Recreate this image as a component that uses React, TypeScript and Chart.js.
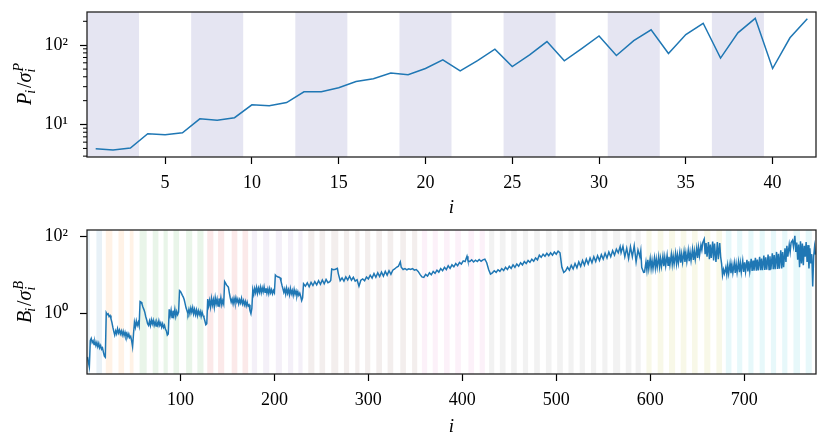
import { useEffect, useRef } from "react";
import { Chart, registerables } from "chart.js";

Chart.register(...registerables);

// ---------- top panel: P_i / sigma_i^P ----------
const pIndex = [
  1, 2, 3, 4, 5, 6, 7, 8, 9, 10, 11, 12, 13, 14, 15, 16, 17, 18, 19, 20, 21,
  22, 23, 24, 25, 26, 27, 28, 29, 30, 31, 32, 33, 34, 35, 36, 37, 38, 39, 40, 41, 42,
];
const pValues = [
  4.95, 4.77, 5.05, 7.65, 7.43, 7.87, 11.8, 11.3, 12.2, 17.7, 17.2, 18.9, 25.9, 25.9,
  29.1, 34.9, 37.7, 44.5, 42.4, 50.8, 65.3, 47.5, 64.1, 89, 53.8, 75.5, 111, 63.5,
  90.8, 131, 74, 114, 156, 78.6, 136, 189, 68.7, 143, 218, 50.8, 124, 216,
];
const pBandStart = [0.5, 6.5, 12.5, 18.5, 24.5, 30.5, 36.5];
const pBandEnd = [3.5, 9.5, 15.5, 21.5, 27.5, 33.5, 39.5];
const pTicksX = [5, 10, 15, 20, 25, 30, 35, 40];
const pTicksY = [10, 100];
const pMinorY = [4, 5, 6, 7, 8, 9, 20, 30, 40, 50, 60, 70, 80, 90, 200];

// ---------- bottom panel: B_i / sigma_i^B ----------
const bIndex = [
  // 1..20
  1, 2, 3, 4, 5, 6, 7, 8, 9, 10, 11, 12, 13, 14, 15, 16, 17, 18, 19, 20,
  // 21..56
  21, 22, 23, 24, 25, 26, 27, 28, 29, 30, 31, 32, 33, 34, 35, 36, 37, 38, 39, 40,
  41, 42, 43, 44, 45, 46, 47, 48, 49, 50, 51, 52, 53, 54, 55, 56,
  // 57..127
  57, 58, 59, 60, 61, 62, 63, 64, 65, 66, 67, 68, 69, 70, 71, 72, 73, 74, 75, 76,
  77, 78, 79, 80, 81, 82, 83, 84, 85, 86, 87, 88, 89, 90, 91, 92, 93, 94, 95, 96,
  97, 98, 99, 100, 101, 102, 103, 104, 105, 106, 107, 108, 109, 110, 111, 112, 113,
  114, 115, 116, 117, 118, 119, 120, 121, 122, 123, 124, 125, 126, 127,
  // 128..176
  128, 129, 130, 131, 132, 133, 134, 135, 136, 137, 138, 139, 140, 141, 142, 143,
  144, 145, 146, 147, 148, 149, 150, 151, 152, 153, 154, 155, 156, 157, 158, 159,
  160, 161, 162, 163, 164, 165, 166, 167, 168, 169, 170, 171, 172, 173, 174, 175, 176,
  // 177..230
  177, 178, 179, 180, 181, 182, 183, 184, 185, 186, 187, 188, 189, 190, 191, 192,
  193, 194, 195, 196, 197, 198, 199, 200, 201, 202, 203, 204, 205, 206, 207, 208,
  209, 210, 211, 212, 213, 214, 215, 216, 217, 218, 219, 220, 221, 222, 223, 224,
  225, 226, 227, 228, 229, 230,
  // 231..359
  231, 233, 235, 237, 239, 241, 243, 245, 247, 249, 251, 253, 255, 257, 259, 260,
  261, 263, 265, 267, 268, 270, 272, 274, 276, 278, 280, 282, 284, 286, 288, 290,
  292, 294, 296, 298, 300, 302, 304, 306, 308, 310, 312, 314, 316, 318, 320, 322,
  324, 326, 328, 330, 332, 334, 335, 337, 339, 341, 343, 345, 347, 349, 351, 353,
  355, 357, 359,
  // 361..430
  361, 363, 365, 367, 369, 371, 373, 375, 377, 379, 381, 383, 385, 387, 389, 391,
  393, 395, 397, 399, 401, 403, 405, 406, 408, 410, 412, 414, 416, 418, 420, 422,
  424, 426, 428, 430,
  // 432..593
  432, 434, 436, 438, 440, 442, 444, 446, 448, 450, 452, 454, 456, 458, 460, 462,
  464, 466, 468, 470, 472, 474, 476, 478, 480, 482, 484, 486, 488, 490, 492, 494,
  496, 498, 500, 502, 504, 506, 508, 510, 512, 514, 516, 518, 520, 522, 524, 526,
  528, 530, 532, 534, 536, 538, 540, 542, 544, 546, 548, 550, 552, 554, 556, 558,
  560, 562, 564, 566, 568, 569, 571, 573, 575, 577, 579, 581, 583, 585, 587, 589,
  590, 591, 593,
  // 594..678
  594, 595.5, 596.5, 597.5, 598.5, 600, 601, 602, 603, 604.5, 605.5, 606.5, 607.5,
  609, 610, 611, 612, 613.5, 614.5, 615.5, 616.5, 618, 619, 620, 621, 622.5, 623.5,
  624.5, 625.5, 627, 628, 629, 630, 631.5, 632.5, 633.5, 634.5, 636, 637, 638, 639,
  640.5, 641.5, 642.5, 643.5, 645, 646, 647, 648, 649.5, 650.5, 651.5, 652.5, 654,
  655, 656, 657.5, 658.5, 659.5, 660.5, 662, 663, 664, 665, 666.5, 667.5, 668.5,
  670, 671.5, 672.5, 674, 675, 676, 677, 678,
  // 679..776
  679, 680.5, 681.5, 682.5, 683.5, 685, 686, 687, 688, 689.5, 690.5, 691.5, 692.5,
  694, 695, 696, 697, 698.5, 699.5, 700.5, 701.5, 703, 704, 705, 706, 707.5, 708.5,
  709.5, 710.5, 712, 713, 714, 715, 716.5, 717.5, 718.5, 719.5, 721, 722, 723, 724,
  725.5, 726.5, 727.5, 728.5, 730, 731, 732, 733, 734.5, 735.5, 736.5, 737.5, 739,
  740, 741, 742, 743.5, 744.5, 745.5, 746.5, 748, 749, 750, 751.5, 752.5, 754, 755,
  756, 757, 758, 759, 760, 761, 762, 763, 764, 765, 766, 767, 768, 769, 770, 771,
  772, 773, 774, 775, 776,
];
const bValues = [
  // 1..20
  0.076, 0.055, 0.042, 0.2, 0.23, 0.18, 0.2, 0.16, 0.19, 0.15, 0.18, 0.14, 0.17,
  0.13, 0.15, 0.12, 0.13, 0.1, 0.08, 0.075,
  // 21..56
  1.06, 0.95, 1.0, 0.85, 0.9, 0.75, 0.6, 0.45, 0.35, 0.28, 0.36, 0.3, 0.41, 0.32,
  0.38, 0.3, 0.36, 0.28, 0.35, 0.27, 0.33, 0.26, 0.31, 0.25, 0.3, 0.24, 0.26, 0.2,
  0.14, 0.3, 0.6, 0.45, 0.65, 0.5, 0.6, 0.48,
  // 57..127
  2.07, 2.0, 1.8, 1.5, 1.3, 1.1, 0.85, 0.7, 0.55, 0.5, 0.65, 0.5, 0.7, 0.55, 0.68,
  0.5, 0.62, 0.48, 0.6, 0.5, 0.66, 0.5, 0.58, 0.45, 0.55, 0.44, 0.5, 0.4, 0.36, 0.28,
  0.3, 1.3, 0.9, 1.25, 0.8, 1.2, 0.9, 1.3, 0.85, 1.15, 0.95, 1.1, 4.0, 3.8, 3.4, 3.0,
  2.7, 2.3, 1.8, 1.4, 1.2, 1.0, 1.3, 1.0, 1.4, 1.1, 1.45, 1.0, 1.3, 0.95, 1.25, 0.9,
  1.2, 0.95, 1.15, 0.85, 1.1, 0.9, 0.8, 0.65, 0.52,
  // 128..176
  0.55, 2.4, 1.6, 2.2, 1.5, 2.5, 1.7, 2.3, 1.5, 2.6, 1.8, 2.4, 1.6, 2.5, 1.8, 2.6,
  1.7, 2.2, 1.8, 6.8, 6.2, 5.6, 5.2, 4.9, 3.5, 2.6, 2.0, 2.4, 1.8, 2.5, 1.9, 2.6,
  2.0, 2.4, 1.8, 2.3, 1.9, 2.5, 1.8, 2.2, 1.7, 2.1, 1.6, 2.0, 1.6, 1.7, 1.2, 1.0, 1.4,
  // 177..230
  4.2, 3.2, 4.5, 3.5, 4.8, 3.4, 4.6, 3.6, 4.9, 3.5, 4.7, 3.7, 5.0, 3.6, 4.6, 3.4,
  4.4, 3.3, 4.5, 3.5, 4.2, 3.3, 4.0, 3.5, 10.1, 9.5, 9.2, 9.0, 8.8, 8.6, 7.0, 5.5,
  4.5, 3.6, 4.4, 3.2, 4.6, 3.4, 4.2, 3.1, 4.5, 3.3, 4.0, 3.0, 4.3, 3.2, 3.9, 2.9,
  3.7, 3.0, 3.4, 2.8, 2.2, 2.6,
  // 231..359
  6.0, 5.2, 6.3, 5.0, 6.5, 5.4, 6.8, 5.6, 7.2, 5.8, 7.5, 6.0, 7.8, 6.4, 6.8, 7.4,
  14.4, 13.8, 14.2, 15.0, 11.0, 7.2, 8.5, 7.0, 9.0, 7.5, 9.4, 7.4, 8.8, 7.0, 7.6, 5.2,
  7.4, 8.0, 7.2, 9.0, 8.0, 10.0, 8.4, 11.0, 8.8, 11.5, 9.2, 12.0, 9.5, 12.5, 10.0, 13.0,
  10.5, 13.5, 14.5, 16.0, 17.0, 22.0, 16.0, 14.0, 14.8, 13.8, 14.6, 14.0, 14.8, 13.5,
  14.0, 12.5, 10.5, 9.0, 8.8,
  // 361..430
  10.5, 9.5, 11.5, 10.2, 12.5, 11.2, 13.5, 12.0, 14.8, 13.0, 16.0, 14.0, 17.5, 15.0,
  18.5, 16.5, 20.0, 17.5, 21.5, 19.5, 23.5, 22.5, 31.0, 24.0, 22.5, 25.0, 22.0, 24.5,
  22.5, 25.5, 23.0, 25.0, 26.0, 21.0, 14.0, 10.7,
  // 432..593
  11.5, 13.0, 11.8, 13.8, 12.5, 14.8, 13.2, 16.0, 14.0, 17.0, 15.0, 18.5, 16.0, 19.5,
  17.0, 21.0, 18.5, 22.5, 20.0, 24.0, 21.5, 26.0, 23.0, 28.0, 25.0, 33.0, 29.0, 35.0,
  31.0, 37.0, 32.0, 38.0, 33.0, 40.0, 35.0, 42.0, 38.0, 16.0, 11.8, 13.0, 16.0, 13.5,
  18.0, 14.5, 20.0, 15.5, 22.0, 17.0, 24.0, 18.0, 26.0, 19.5, 28.0, 21.0, 30.0, 22.5,
  32.0, 24.0, 34.0, 26.0, 37.0, 28.0, 40.0, 30.0, 43.0, 33.0, 47.0, 38.0, 55.0, 38.0,
  56.0, 30.0, 50.0, 27.0, 54.0, 30.0, 58.0, 22.0, 45.0, 30.0, 43.0, 15.8, 11.8,
  // 594..678
  12.0, 22, 13.5, 25, 14.5, 27, 15, 24, 14.8, 28, 15.5, 26, 16, 30, 16.5, 27, 16.8,
  31, 17, 29, 17.5, 33, 18, 30, 18.5, 35, 19, 31, 19.5, 37, 20, 33, 20.5, 39, 21, 35,
  21.5, 41, 22, 37, 22.5, 44, 23, 39, 24, 47, 25, 42, 26, 50, 28, 52, 32, 60, 45, 70,
  86, 35, 68, 30, 72, 26, 62, 28, 74, 24, 66, 22, 72, 26, 68, 30, 20, 10, 14,
  // 679..776
  11, 16, 10.5, 18, 11, 20, 11.2, 18.5, 11.5, 21, 11.5, 19.5, 11.8, 22, 12, 20.5, 12,
  23.5, 12.2, 21.5, 12.3, 25, 12.5, 23, 12.6, 26.5, 12.8, 24, 13, 28, 13, 25.5, 13.2,
  30, 13.4, 27, 13.5, 32, 13.6, 29, 13.8, 34, 14, 31, 14, 37, 14.2, 33, 14.3, 40, 14.5,
  36, 14.8, 44, 15, 40, 16, 50, 22, 58, 30, 62, 40, 70, 80, 55, 104, 40, 70, 25, 62,
  16, 75, 20, 66, 18, 58, 30, 72, 22, 60, 15, 50, 20, 35, 5.1, 30, 55, 34,
];
const bBandStart = [
  0.5, 10.5,
  20.5, 34, 46,
  56.5, 70.5, 82, 92.5, 106, 118,
  128.5, 140, 154.5, 166,
  176, 188, 201.5, 214.5, 225.5,
  236, 248, 260.5, 274, 286, 296.5, 308.5, 320.5, 334, 346.5,
  357, 368.5, 380.5, 392.5, 406.5, 418.5,
  428.5, 440, 452, 464.5, 476.5, 489, 501, 513, 525, 537, 549, 560.5, 574, 584.5,
  596, 608, 620, 632.5, 644.5, 657.5, 670.5,
  680.5, 692.5, 704.5, 716.5, 728.5, 740.5, 752.5, 765.5,
];
const bBandEnd = [
  3.5, 16.5,
  27.5, 40, 50,
  64, 76.5, 86.5, 98.5, 112.5, 124.5,
  135, 146.5, 160.5, 172,
  181.5, 194.5, 208, 220, 230,
  242.5, 254, 268, 279.5, 290.5, 302, 314.5, 326.5, 340, 352,
  362.5, 374, 386.5, 398.5, 412.5, 424,
  434, 446, 458, 470, 482.5, 495, 507, 518.5, 530.5, 542.5, 554.5, 568, 580, 590,
  601.5, 614, 626.5, 638.5, 650.5, 664, 676.5,
  686.5, 698, 710, 722, 734, 746, 759.5, 772,
];
const bBandGroup = [
  0, 0,
  1, 1, 1,
  2, 2, 2, 2, 2, 2,
  3, 3, 3, 3,
  4, 4, 4, 4, 4,
  5, 5, 5, 5, 5, 5, 5, 5, 5, 5,
  6, 6, 6, 6, 6, 6,
  7, 7, 7, 7, 7, 7, 7, 7, 7, 7, 7, 7, 7, 7,
  8, 8, 8, 8, 8, 8, 8,
  9, 9, 9, 9, 9, 9, 9, 9,
];
const bTicksX = [100, 200, 300, 400, 500, 600, 700];
const bTicksY = [1, 100];

// ---------- styling ----------
const TAB10 = [
  "31,119,180", "255,127,14", "44,160,44", "214,39,40", "148,103,189",
  "140,86,75", "227,119,194", "127,127,127", "188,189,34", "23,190,207",
];
const LINE = "#1f77b4";
const FONT = '"Liberation Serif", "Times New Roman", serif';
const W = 830;
const H = 223;

const SUP: Record<number, string> = { 0: "\u2070", 1: "\u00b9", 2: "\u00b2" };
const logLabel = (v: number) => "10" + SUP[Math.round(Math.log10(v))];

type Band = { start: number; end: number; color: string };

function drawYTitle(ctx: CanvasRenderingContext2D, cx: number, cy: number, letter: string) {
  const big = `italic 20px ${FONT}`;
  const roman = `20px ${FONT}`;
  const small = `italic 14px ${FONT}`;
  ctx.save();
  ctx.translate(cx, cy);
  ctx.rotate(-Math.PI / 2);
  ctx.fillStyle = "#000";
  ctx.textBaseline = "alphabetic";
  ctx.textAlign = "left";
  ctx.font = big;
  const wL = ctx.measureText(letter).width;
  const wS = ctx.measureText("\u03c3").width;
  ctx.font = roman;
  const wSlash = ctx.measureText("/").width;
  ctx.font = small;
  const wI = ctx.measureText("i").width;
  const wSup = ctx.measureText(letter).width;
  const total = wL + wI + 1 + wSlash + wS + Math.max(wI, wSup) + 1;
  let x = -total / 2;
  ctx.font = big;
  ctx.fillText(letter, x, 0);
  x += wL;
  ctx.font = small;
  ctx.fillText("i", x - 1, 4);
  x += wI + 1;
  ctx.font = roman;
  ctx.fillText("/", x, 0);
  x += wSlash;
  ctx.font = big;
  ctx.fillText("\u03c3", x, 0);
  x += wS;
  ctx.font = small;
  ctx.fillText("i", x, 4);
  ctx.fillText(letter, x + 1, -8);
  ctx.restore();
}

function panelPlugin(opt: {
  bands: Band[];
  minorY: number[];
  letter: string;
  titleY: number;
  xTitleY: number;
}) {
  return {
    id: "panel",
    beforeDatasetsDraw(chart: any) {
      const { ctx, chartArea: a, scales } = chart;
      ctx.save();
      ctx.beginPath();
      ctx.rect(a.left, a.top, a.right - a.left, a.bottom - a.top);
      ctx.clip();
      opt.bands.forEach((b) => {
        const x1 = scales.x.getPixelForValue(b.start);
        const x2 = scales.x.getPixelForValue(b.end);
        ctx.fillStyle = b.color;
        ctx.fillRect(x1, a.top, x2 - x1, a.bottom - a.top);
      });
      ctx.restore();
    },
    afterDraw(chart: any) {
      const { ctx, chartArea: a, scales } = chart;
      ctx.save();
      ctx.strokeStyle = "#222";
      ctx.lineWidth = 1.3;
      ctx.strokeRect(a.left, a.top, a.right - a.left, a.bottom - a.top);
      ctx.lineWidth = 1;
      ctx.strokeStyle = "#000";
      opt.minorY.forEach((v) => {
        const y = scales.y.getPixelForValue(v);
        ctx.beginPath();
        ctx.moveTo(a.left - 4, y);
        ctx.lineTo(a.left, y);
        ctx.stroke();
      });
      ctx.fillStyle = "#000";
      ctx.font = `italic 19px ${FONT}`;
      ctx.textAlign = "center";
      ctx.textBaseline = "middle";
      ctx.fillText("i", (a.left + a.right) / 2, opt.xTitleY);
      ctx.restore();
      drawYTitle(ctx, 31, opt.titleY, opt.letter);
    },
  };
}

function makeConfig(p: {
  xs: number[];
  ys: number[];
  xMin: number;
  xMax: number;
  yMin: number;
  yMax: number;
  ticksX: number[];
  ticksY: number[];
  padTop: number;
  axisH: number;
  plugin: any;
}): any {
  const tickStyle = {
    display: true,
    drawOnChartArea: false,
    drawTicks: true,
    tickLength: 7,
    tickColor: "#000",
    tickWidth: 1.2,
  };
  return {
    type: "line",
    data: {
      datasets: [
        {
          data: p.xs.map((x, i) => ({ x, y: p.ys[i] })),
          borderColor: LINE,
          borderWidth: 1.5,
          pointRadius: 0,
          fill: false,
          tension: 0,
        },
      ],
    },
    options: {
      animation: false,
      responsive: false,
      events: [],
      layout: { padding: { top: p.padTop, right: 14, left: 0, bottom: 0 } },
      plugins: { legend: { display: false }, tooltip: { enabled: false } },
      scales: {
        x: {
          type: "linear",
          min: p.xMin,
          max: p.xMax,
          afterBuildTicks: (s: any) => {
            s.ticks = p.ticksX.map((v) => ({ value: v }));
          },
          afterFit: (s: any) => {
            s.height = p.axisH;
            s.paddingLeft = 0;
            s.paddingRight = 0;
          },
          grid: tickStyle,
          border: { display: false },
          ticks: {
            color: "#000",
            font: { family: FONT, size: 18 },
            padding: 8,
            maxRotation: 0,
            autoSkip: false,
          },
        },
        y: {
          type: "logarithmic",
          min: p.yMin,
          max: p.yMax,
          afterBuildTicks: (s: any) => {
            s.ticks = p.ticksY.map((v) => ({ value: v }));
          },
          afterFit: (s: any) => {
            s.width = 87;
            s.paddingTop = 0;
            s.paddingBottom = 0;
          },
          grid: tickStyle,
          border: { display: false },
          ticks: {
            color: "#000",
            font: { family: FONT, size: 18 },
            padding: 12,
            autoSkip: false,
            callback: (v: any) => logLabel(Number(v)),
          },
        },
      },
    },
    plugins: [p.plugin],
  };
}

function App() {
  const topRef = useRef<HTMLCanvasElement | null>(null);
  const botRef = useRef<HTMLCanvasElement | null>(null);

  useEffect(() => {
    document.body.style.margin = "0";
    if (!topRef.current || !botRef.current) return;

    const pBands: Band[] = pBandStart.map((s, i) => ({
      start: s,
      end: pBandEnd[i],
      color: "rgba(0,0,128,0.1)",
    }));
    const bBands: Band[] = bBandStart.map((s, i) => ({
      start: s,
      end: bBandEnd[i],
      color: `rgba(${TAB10[bBandGroup[i]]},0.1)`,
    }));

    const top = new Chart(
      topRef.current,
      makeConfig({
        xs: pIndex,
        ys: pValues,
        xMin: 0.5,
        xMax: 42.5,
        yMin: 3.9,
        yMax: 262,
        ticksX: pTicksX,
        ticksY: pTicksY,
        padTop: 12,
        axisH: H - 157,
        plugin: panelPlugin({ bands: pBands, minorY: pMinorY, letter: "P", titleY: 84, xTitleY: 208 }),
      })
    );
    const bottom = new Chart(
      botRef.current,
      makeConfig({
        xs: bIndex,
        ys: bValues,
        xMin: 0.5,
        xMax: 776.5,
        yMin: 0.0275,
        yMax: 148,
        ticksX: bTicksX,
        ticksY: bTicksY,
        padTop: 7,
        axisH: H - 151,
        plugin: panelPlugin({ bands: bBands, minorY: [], letter: "B", titleY: 79, xTitleY: 204 }),
      })
    );

    return () => {
      top.destroy();
      bottom.destroy();
    };
  }, []);

  return (
    <div style={{ width: W, height: 2 * H, background: "#fff" }}>
      <canvas ref={topRef} width={W} height={H} style={{ display: "block" }}></canvas>
      <canvas ref={botRef} width={W} height={H} style={{ display: "block" }}></canvas>
    </div>
  );
}

export default App;
